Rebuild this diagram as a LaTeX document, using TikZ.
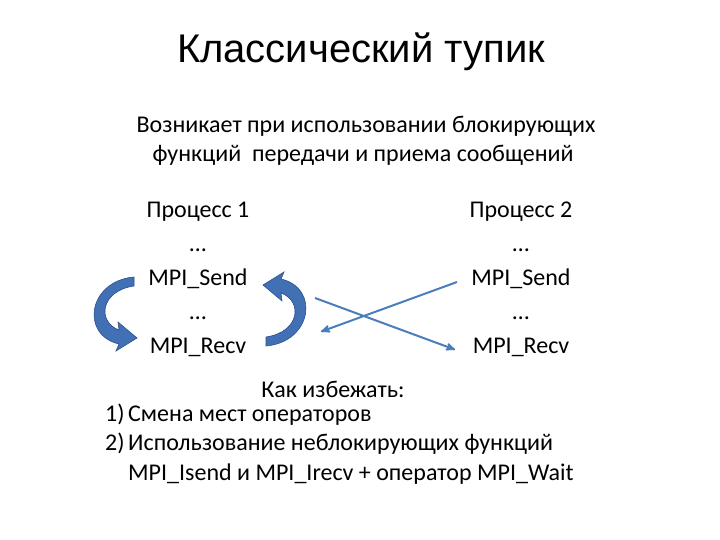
\documentclass[tikz,border=0pt]{standalone}
\usepackage{fontspec}
\setmainfont{Carlito}
\newfontfamily\titlefamily{Liberation Sans}
\usetikzlibrary{arrows,positioning}
\definecolor{linkblue}{RGB}{74,126,187}
\definecolor{arrowblue}{RGB}{66,112,180}
\definecolor{arrowedge}{RGB}{44,80,140}
\def\bodyfont{\fontsize{24}{29}\selectfont}

% curved block arrow, drawn around the left column
\def\curvedarrow{(134,277) .. controls (88,281) and (80,335) .. (119,344)
  -- (116,351) -- (137,338) -- (118,322) -- (119,330)
  .. controls (97,322) and (100,291) .. (134,286) -- cycle}

\begin{document}
\begin{tikzpicture}[x=1pt,y=-1pt,>=stealth',node distance=33.75pt,
  txt/.style={font=\bodyfont,inner sep=0pt,text height=17pt,text depth=5pt},
  item/.style={txt,anchor=west},
  link/.style={->,draw=linkblue,line width=2pt,shorten >=1pt},
  block/.style={fill=arrowblue,draw=arrowedge,line width=0.6pt}]
  \useasboundingbox (0,0) rectangle (720,540);

  \node[font=\titlefamily\fontsize{40}{44}\selectfont,inner sep=0pt,anchor=base] (title) at (361,63) {Классический тупик};
  \node[txt] (intro1) at (366,127) {Возникает при использовании блокирующих};
  \node[txt] (intro2) at (363,156) {функций~ передачи и приема сообщений};

  % process 1
  \node[txt] (p1) at (198,212) {Процесс 1};
  \node[txt,below of=p1] (p1dots) {…};
  \node[txt,below of=p1dots] (send1) {MPI\_Send};
  \node[txt,below of=send1] (p1dots2) {…};
  \node[txt,below of=p1dots2] (recv1) {MPI\_Recv};

  % process 2
  \node[txt] (p2) at (521,212) {Процесс 2};
  \node[txt,below of=p2] (p2dots) {…};
  \node[txt,below of=p2dots] (send2) {MPI\_Send};
  \node[txt,below of=send2] (p2dots2) {…};
  \node[txt,below of=p2dots2] (recv2) {MPI\_Recv};

  % crossing messages
  \coordinate (c1) at (315,298);
  \coordinate (c2) at (456,350);
  \coordinate (c3) at (457,282);
  \coordinate (c4) at (320,332);
  \draw[link] (c1) -- (c2);
  \draw[link] (c3) -- (c4);

  % blocking loops
  \filldraw[block] \curvedarrow;
  \begin{scope}[shift={(400,623)},rotate=180]
    \filldraw[block] \curvedarrow;
  \end{scope}

  \node[txt] (avoid) at (333,391) {Как избежать:};
  \node[item] (n1) at (105,415) {1)};
  \node[item,below=7.5pt of n1.south west,anchor=north west] (n2) {2)};
  \node[item] (fix1) at (128,415) {Смена мест операторов};
  \node[item,below=7.5pt of fix1.south west,anchor=north west] (fix2) {Использование неблокирующих функций};
  \node[item,below=7.5pt of fix2.south west,anchor=north west] (fix3) {MPI\_Isend и MPI\_Irecv + оператор MPI\_Wait};
\end{tikzpicture}
\end{document}
